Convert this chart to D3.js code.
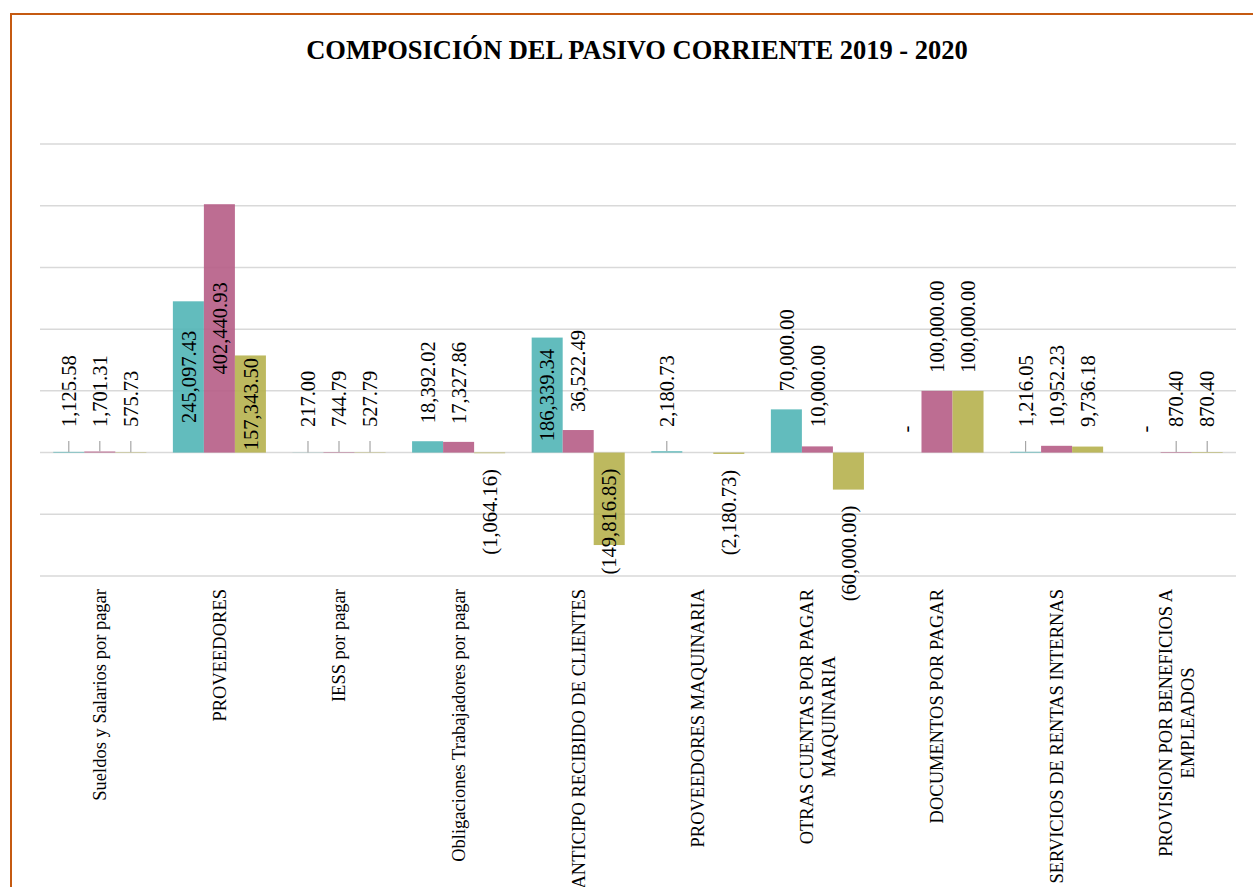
<!DOCTYPE html>
<html>
<head>
<meta charset="utf-8">
<script src="https://cdn.jsdelivr.net/npm/d3@7"></script>
<style>
    body { margin: 0; background: #fff; }
    svg { display: block; }
    text { font-family: "Liberation Serif", "Times New Roman", serif; fill: #000; }
</style>
</head>
<body>
<div id="chart"></div>
<script>
// DONNEES
const categories = [
    "Sueldos y Salarios por pagar",
    "PROVEEDORES",
    "IESS por pagar",
    "Obligaciones Trabajadores por pagar",
    "ANTICIPO RECIBIDO DE CLIENTES",
    "PROVEEDORES MAQUINARIA",
    "OTRAS CUENTAS POR PAGAR\nMAQUINARIA",
    "DOCUMENTOS POR PAGAR",
    "SERVICIOS DE RENTAS INTERNAS",
    "PROVISION POR BENEFICIOS A\nEMPLEADOS"
];
const series = ["2019", "2020", "Variación"];
const values2019 = [1125.58, 245097.43, 217.00, 18392.02, 186339.34, 2180.73, 70000.00, 0, 1216.05, 0];
const values2020 = [1701.31, 402440.93, 744.79, 17327.86, 36522.49, null, 10000.00, 100000.00, 10952.23, 870.40];
const valuesVar = [575.73, 157343.50, 527.79, -1064.16, -149816.85, -2180.73, -60000.00, 100000.00, 9736.18, 870.40];
const yTicks = [-200000, -100000, 0, 100000, 200000, 300000, 400000, 500000];

// CONFIG
const width = 1253, height = 887;
const plot = { left: 40, right: 1236, top: 144, bottom: 576 };
const COLORS = ["#51b5b6", "#b65d86", "#b6b14e"];
const title = "COMPOSICIÓN DEL PASIVO CORRIENTE 2019 - 2020";

const svg = d3.select("#chart").append("svg")
    .attr("width", width)
    .attr("height", height);

svg.append("rect").attr("width", width).attr("height", height).attr("fill", "#fff");

// bordure orange (coupée à droite et en bas)
svg.append("rect")
    .attr("x", 11).attr("y", 14)
    .attr("width", width + 20).attr("height", height + 20)
    .attr("fill", "none")
    .attr("stroke", "#c55a11")
    .attr("stroke-width", 2);

svg.append("text")
    .attr("x", 637).attr("y", 59)
    .attr("text-anchor", "middle")
    .style("font-size", "26.5px")
    .style("font-weight", "bold")
    .text(title);

// SCALES
const y = d3.scaleLinear()
    .domain([d3.min(yTicks), d3.max(yTicks)])
    .range([plot.bottom, plot.top]);

const x = d3.scaleBand()
    .domain(categories)
    .range([plot.left, plot.right]);

const bw = x.bandwidth();
const xs = d3.scaleBand()
    .domain(series)
    .range([bw * 0.111, bw * 0.889]);

// grille
svg.append("g").selectAll("line")
    .data(yTicks)
    .join("line")
    .attr("x1", plot.left).attr("x2", plot.right)
    .attr("y1", d => y(d)).attr("y2", d => y(d))
    .attr("stroke", "#d9d9d9")
    .attr("stroke-width", 1.5);

// points
const rows = [];
categories.forEach((c, i) => {
    [values2019, values2020, valuesVar].forEach((arr, k) => {
        rows.push({ cat: c, serie: series[k], k: k, v: arr[i] });
    });
});
const points = rows.filter(d => d.v !== null);

const y0 = y(0);

svg.append("g").selectAll("rect")
    .data(points)
    .join("rect")
    .attr("x", d => x(d.cat) + xs(d.serie))
    .attr("width", xs.bandwidth())
    .attr("y", d => Math.min(y(d.v), y0))
    .attr("height", d => Math.abs(y(d.v) - y0))
    .attr("fill", d => COLORS[d.k])
    .attr("fill-opacity", 0.9);

// étiquettes (format comptable)
const fmt = d3.format(",.2f");
function label(v) {
    if (v === 0) return "-";
    return v < 0 ? "(" + fmt(-v) + ")" : fmt(v);
}

// position des étiquettes
const big = 140000;
points.forEach(d => {
    d.cx = x(d.cat) + xs(d.serie) + xs.bandwidth() / 2;
    const yv = y(d.v);
    if (d.v >= big) {
        d.ly = (yv + y0) / 2; d.anchor = "middle";
    } else if (d.v <= -big) {
        d.ly = y0 + 16; d.anchor = "end";
    } else if (d.v < 0) {
        d.ly = yv + 16; d.anchor = "end";
    } else if (d.v === 0) {
        d.ly = y0 - 20; d.anchor = "start";
    } else {
        d.ly = Math.min(yv - 18, 427); d.anchor = "start";
    }
    d.leader = d.v > 0 && d.v < big && (yv - d.ly) > 24;
});

// lignes de rappel
svg.append("g").selectAll("line")
    .data(points.filter(d => d.leader))
    .join("line")
    .attr("x1", d => d.cx).attr("x2", d => d.cx)
    .attr("y1", d => d.ly + 14).attr("y2", d => y(d.v))
    .attr("stroke", "#a6a6a6")
    .attr("stroke-width", 1.2);

svg.append("g").selectAll("text")
    .data(points)
    .join("text")
    .attr("transform", d => `translate(${d.cx},${d.ly}) rotate(-90)`)
    .attr("dy", "0.35em")
    .attr("text-anchor", d => d.anchor)
    .style("font-size", "20.5px")
    .text(d => label(d.v));

// libellés de l'axe X
const labelTop = 589;
const xl = svg.append("g");
categories.forEach(c => {
    const lines = c.split("\n");
    const g = xl.append("g");
    const texts = lines.map(t => g.append("text")
        .style("font-size", "18.5px")
        .attr("text-anchor", "middle")
        .attr("dy", "0.35em")
        .text(t));
    const maxW = d3.max(texts, t => t.node().getComputedTextLength());
    const lh = 22;
    texts.forEach((t, j) => {
        const cx = x(c) + bw / 2 + (j - (lines.length - 1) / 2) * lh;
        t.attr("transform", `translate(${cx},${labelTop + maxW / 2}) rotate(-90)`);
    });
});
</script>
</body>
</html>
